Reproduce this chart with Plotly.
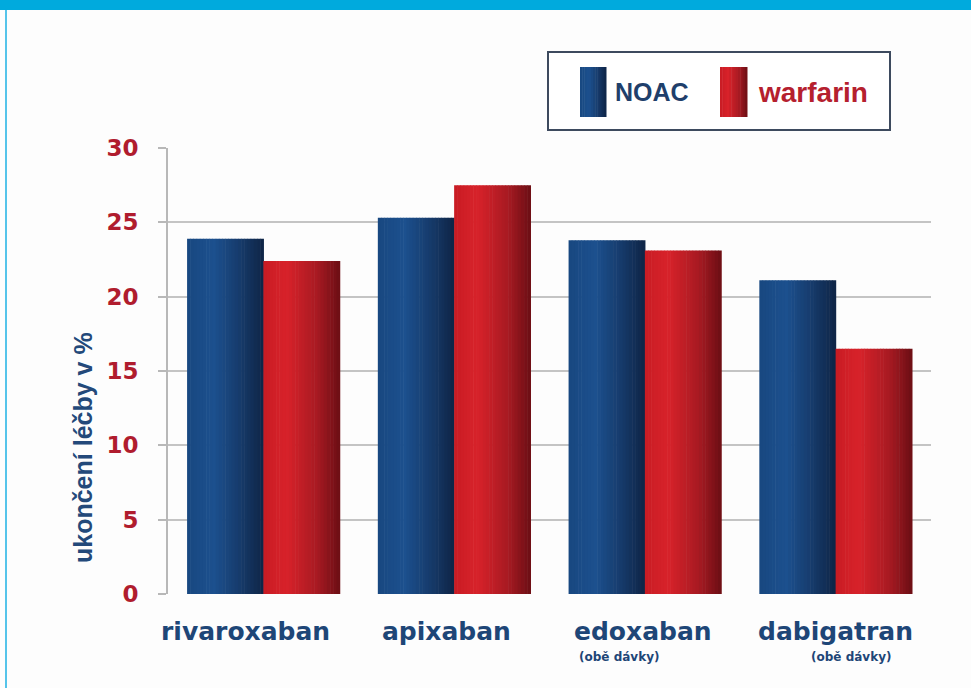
import plotly.graph_objects as go

categories = ["rivaroxaban", "apixaban", "edoxaban", "dabigatran"]
noac = [23.9, 25.3, 23.8, 21.1]
warfarin = [22.4, 27.5, 23.1, 16.5]
sub_labels = ["", "", "(obě dávky)", "(obě dávky)"]
label_shift = [-18, -8, -2, 0]
sub_shift = [0, 0, -26, 15]
y_ticks = [0, 5, 10, 15, 20, 25, 30]
series_names = ["NOAC", "warfarin"]

W, H = 971, 688
L, R, T, B = 168, 931, 148, 594


def px(x):
    return (x - L) / (R - L)


def py(y):
    return (B - y) / (B - T)


def lerp(c1, c2, t):
    return tuple(round(a + (b - a) * t) for a, b in zip(c1, c2))


def grad(stops, t):
    for i in range(len(stops) - 1):
        t0, c0 = stops[i]
        t1, c1 = stops[i + 1]
        if t0 <= t <= t1:
            return "rgb(%d,%d,%d)" % lerp(c0, c1, (t - t0) / (t1 - t0) if t1 > t0 else 0)
    return "rgb(%d,%d,%d)" % stops[-1][1]


blue_stops = [(0, (24, 72, 128)), (0.35, (28, 80, 142)), (0.7, (22, 58, 106)), (1, (14, 36, 70))]
red_stops = [(0, (200, 28, 36)), (0.3, (216, 34, 42)), (0.7, (168, 26, 34)), (1, (108, 14, 20))]

N = 24
bw = 0.4
fig = go.Figure()
for si, (vals, stops) in enumerate([(noac, blue_stops), (warfarin, red_stops)]):
    base = -bw if si == 0 else 0.0
    for k in range(N):
        t = (k + 0.5) / N
        fig.add_trace(go.Bar(
            x=categories, y=vals,
            offset=base + k * bw / N, width=bw / N + 0.003,
            marker=dict(color=grad(stops, t), line=dict(width=0)),
            showlegend=False, hoverinfo="y", name=series_names[si],
        ))

shapes = []
# top band and left border
shapes.append(dict(type="rect", xref="paper", yref="paper", x0=px(0), x1=px(W), y0=py(0), y1=py(10),
                   fillcolor="#00aadd", line=dict(width=0), layer="below"))
shapes.append(dict(type="line", xref="paper", yref="paper", x0=px(6), x1=px(6), y0=py(10), y1=py(H),
                   line=dict(color="#55c4ea", width=2)))
# legend box
shapes.append(dict(type="rect", xref="paper", yref="paper", x0=px(548), x1=px(890), y0=py(52), y1=py(130),
                   fillcolor="white", line=dict(color="#3d4a5e", width=2)))
# legend swatches (gradient strips)
M = 12
for (x0, x1), stops in [((580, 606), blue_stops), ((720, 747), red_stops)]:
    for k in range(M):
        a = x0 + (x1 - x0) * k / M
        b = x0 + (x1 - x0) * (k + 1) / M + 0.5
        shapes.append(dict(type="rect", xref="paper", yref="paper", x0=px(a), x1=px(b), y0=py(67), y1=py(117),
                           fillcolor=grad(stops, (k + 0.5) / M), line=dict(width=0)))

annotations = [
    dict(xref="paper", yref="paper", x=px(613), y=py(92), text="<b>NOAC</b>", showarrow=False,
         xanchor="left", yanchor="middle", font=dict(family="Liberation Sans, Arial", size=25, color="#1f3f6b")),
    dict(xref="paper", yref="paper", x=px(756), y=py(92), text="<b>warfarin</b>", showarrow=False,
         xanchor="left", yanchor="middle", font=dict(family="Liberation Sans, Arial", size=28, color="#b5202e")),
    dict(xref="paper", yref="paper", x=px(83), y=py(448), text="<b>ukončení léčby v %</b>", textangle=-90,
         showarrow=False, xanchor="center", yanchor="middle",
         font=dict(family="Liberation Sans, Arial", size=25, color="#23497a")),
]
for i, c in enumerate(categories):
    annotations.append(dict(xref="x", yref="paper", x=c, y=py(631), text="<b>" + c + "</b>",
                            xshift=label_shift[i], showarrow=False, xanchor="center", yanchor="middle",
                            font=dict(family="DejaVu Sans", size=25, color="#1e4677")))
for i, s in enumerate(sub_labels):
    if s:
        annotations.append(dict(xref="x", yref="paper", x=categories[i], y=py(657), text="<b>" + s + "</b>",
                                xshift=sub_shift[i], showarrow=False, xanchor="center", yanchor="middle",
                                font=dict(family="DejaVu Sans", size=12, color="#1e4677")))

fig.update_layout(
    width=W, height=H,
    margin=dict(l=L, r=W - R, t=T, b=H - B, pad=0),
    paper_bgcolor="#fdfdfd", plot_bgcolor="rgba(0,0,0,0)",
    barmode="overlay", bargap=0.2,
    showlegend=False,
    shapes=shapes, annotations=annotations,
    xaxis=dict(type="category", range=[-0.5, len(categories) - 0.5], autorange=False,
               showgrid=False, showline=False, ticks="", zeroline=False, showticklabels=False),
    yaxis=dict(range=[0, 30], tickvals=y_ticks, showgrid=True, gridcolor="#c4c4c4", gridwidth=1.5,
               zeroline=False, showline=True, linecolor="#b8b8b8", linewidth=2,
               ticks="outside", ticklen=8, tickcolor="#b8b8b8", tickwidth=1.5,
               tickfont=dict(family="DejaVu Sans", size=23, color="#b01c2e", weight="bold"),
               ticklabelstandoff=15),
)

fig.write_html("out.html")
